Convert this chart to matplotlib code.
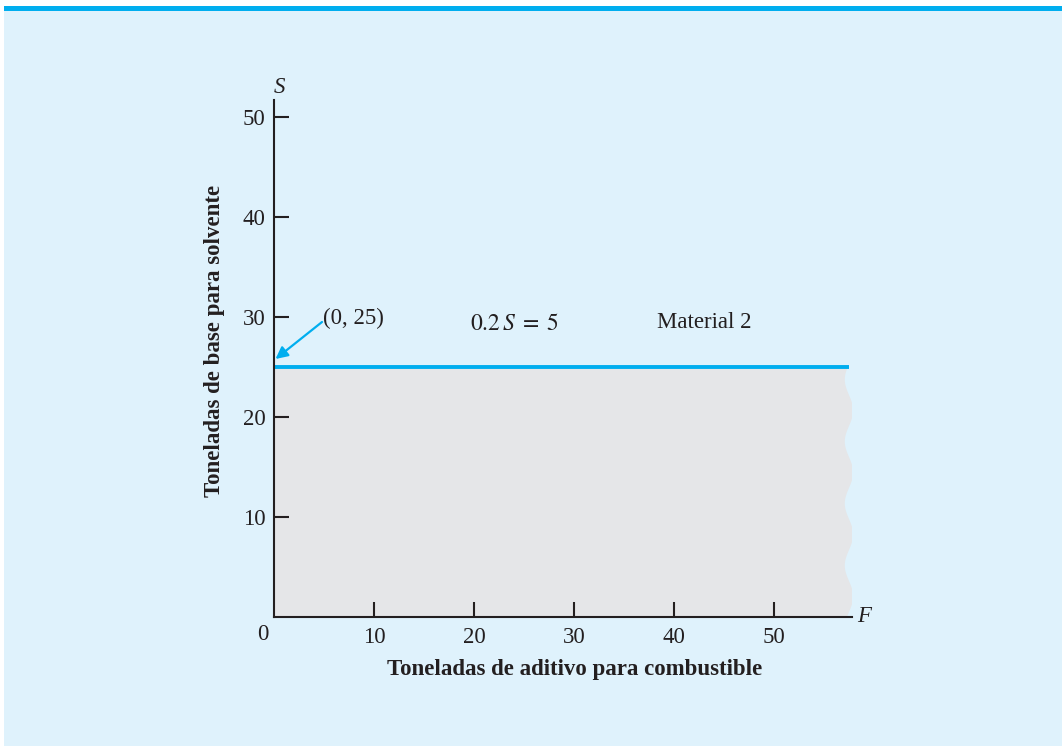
import numpy as np
import matplotlib
matplotlib.use("Agg")
import matplotlib.pyplot as plt
from matplotlib.patches import Rectangle, Polygon

# Data
x_ticks = [10, 20, 30, 40, 50]
y_ticks = [10, 20, 30, 40, 50]
constraint_S = 25          # 0.2 S = 5
x_max = 57.8
y_max = 51.7
line_end = 57.5
point = (0, 25)

W, H = 1062, 747
fig = plt.figure(figsize=(W / 100, H / 100), dpi=100)
fig.patch.set_facecolor("white")

BG = "#dff2fc"
BLUE = "#00aeef"
GREY = "#e5e6e8"
DARK = "#231f20"
FS = 16.5

fig.add_artist(Rectangle((4 / W, 1 - 746 / H), 1 - 4 / W, (746 - 6) / H,
                         transform=fig.transFigure, facecolor=BG, edgecolor="none", zorder=0))
fig.add_artist(Rectangle((4 / W, 1 - 11 / H), 1 - 4 / W, 5 / H,
                         transform=fig.transFigure, facecolor=BLUE, edgecolor="none", zorder=1))

x0, y0 = 274, 617
ax = fig.add_axes([x0 / W, 1 - y0 / H, (852 - x0) / W, (y0 - 100) / H])
ax.set_facecolor("none")
ax.set_xlim(0, x_max)
ax.set_ylim(0, y_max)
for s in ["top", "right"]:
    ax.spines[s].set_visible(False)
for s in ["left", "bottom"]:
    ax.spines[s].set_color(DARK)
    ax.spines[s].set_linewidth(1.5)
    ax.spines[s].set_zorder(4)

serif = ["Liberation Serif", "DejaVu Serif"]

ax.set_xticks(x_ticks)
ax.set_yticks(y_ticks)
ax.set_xticklabels([str(t) for t in x_ticks], fontfamily=serif, fontsize=FS, color=DARK)
ax.set_yticklabels([str(t) for t in y_ticks], fontfamily=serif, fontsize=FS, color=DARK)
ax.tick_params(axis="x", direction="in", length=11, width=1.5, color=DARK, pad=7)
ax.tick_params(axis="y", direction="in", length=11, width=1.5, color=DARK, pad=6)

# feasible region with wavy right edge
ys = np.linspace(0, constraint_S, 200)
xs_edge = line_end + 0.42 * np.sin(2 * np.pi * (ys - 0.5) / 6.2)
poly = [(0, 0)] + list(zip(xs_edge, ys)) + [(0, constraint_S)]
ax.add_patch(Polygon(poly, closed=True, facecolor=GREY, edgecolor="none", zorder=1))

ax.plot([0, line_end], [constraint_S, constraint_S], color=BLUE, lw=2.8, zorder=3,
        solid_capstyle="butt")

ax.text(4.9, 29.9, "(0, 25)", fontfamily=serif, fontsize=FS, color=DARK, va="center", ha="left")
ax.annotate("", xy=(0.15, 25.8), xytext=(4.8, 29.5),
            arrowprops=dict(arrowstyle="-|>", color=BLUE, lw=1.6, mutation_scale=18,
                            shrinkA=0, shrinkB=0))
ax.text(19.6, 29.4, r"$0.2\,S\;=\;5$", fontsize=FS + 0.5, color=DARK, ha="left", va="center",
        math_fontfamily="stix")
ax.text(38.3, 29.4, "Material 2", fontfamily=serif, fontsize=FS, color=DARK, ha="left",
        va="center")

ax.text(0.5, 53.0, "S", fontfamily=serif, fontsize=FS, style="italic", color=DARK,
        ha="center", va="center", clip_on=False)
ax.text(59.0, 0.0, "F", fontfamily=serif, fontsize=FS, style="italic", color=DARK,
        ha="center", va="center", clip_on=False)
ax.text(-1.1, -1.7, "0", fontfamily=serif, fontsize=FS, color=DARK, ha="center", va="center",
        clip_on=False)

ax.set_xlabel("Toneladas de aditivo para combustible", fontfamily=serif, fontsize=FS,
              fontweight="bold", color=DARK, va="center")
ax.set_ylabel("Toneladas de base para solvente", fontfamily=serif, fontsize=FS,
              fontweight="bold", color=DARK, va="center")
ax.xaxis.set_label_coords((575 - x0) / (852 - x0), -(670 - y0) / (y0 - 100))
ax.yaxis.set_label_coords(-(x0 - 215) / (852 - x0), (y0 - 341) / (y0 - 100))

fig.savefig("out.png", dpi=100, facecolor=fig.get_facecolor())
